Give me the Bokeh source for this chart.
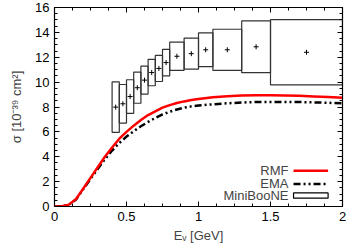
from bokeh.plotting import figure
from bokeh.models import (Range1d, LinearAxis, SingleIntervalTicker, CustomJSTickFormatter,
                          Label, ColumnDataSource)
from bokeh.embed import file_html
from bokeh.resources import INLINE

# ---- data ----
energy = [0, 0.05, 0.1, 0.15, 0.2, 0.25, 0.3, 0.35, 0.4, 0.45, 0.5, 0.55, 0.6, 0.65, 0.7,
          0.75, 0.8, 0.85, 0.9, 0.95, 1.0, 1.1, 1.2, 1.3, 1.4, 1.5, 1.6, 1.7, 1.8, 1.9, 2.0]
rmf = [0, 0.02, 0.15, 0.6, 1.45, 2.3, 3.15, 4.0, 4.75, 5.45, 6.0, 6.5, 6.95, 7.35, 7.65,
       7.95, 8.15, 8.32, 8.45, 8.56, 8.65, 8.78, 8.86, 8.92, 8.95, 8.95, 8.93, 8.9, 8.85, 8.8, 8.75]
ema = [0, 0.02, 0.14, 0.57, 1.4, 2.22, 3.02, 3.8, 4.5, 5.1, 5.62, 6.05, 6.45, 6.8, 7.12,
       7.4, 7.62, 7.8, 7.95, 8.05, 8.12, 8.22, 8.3, 8.36, 8.4, 8.41, 8.41, 8.4, 8.37, 8.34, 8.3]

bin_lo = [0.40, 0.45, 0.50, 0.55, 0.60, 0.65, 0.70, 0.75, 0.80, 0.90, 1.00, 1.10, 1.30, 1.50]
bin_hi = [0.45, 0.50, 0.55, 0.60, 0.65, 0.70, 0.75, 0.80, 0.90, 1.00, 1.10, 1.30, 1.50, 2.00]
mb_sigma = [7.99, 8.26, 8.84, 9.55, 10.16, 10.77, 11.10, 11.57, 12.08, 12.29, 12.60, 12.60, 12.84, 12.40]
mb_err = [2.03, 1.55, 1.35, 1.25, 1.12, 1.06, 1.05, 1.06, 1.13, 1.25, 1.36, 1.65, 2.08, 2.62]

legend_labels = ["RMF", "EMA", "MiniBooNE"]

# ---- layout constants (legend placement in data space) ----
LEG_TEXT_X = 1.625
LEG_X0, LEG_X1 = 1.66, 1.90
LEG_ROWS = [2.87, 1.81, 0.88]
LEG_BOX_H = 0.42

FONT = "Liberation Sans"

p = figure(width=348, height=245, output_backend="svg", toolbar_location=None,
           x_range=Range1d(0, 2), y_range=Range1d(0, 16),
           min_border_left=54, min_border_right=6, min_border_top=7, min_border_bottom=39)
p.background_fill_color = "white"
p.border_fill_color = "white"
p.outline_line_color = "black"
p.outline_line_width = 1.2
p.xgrid.visible = False
p.ygrid.visible = False

xt = SingleIntervalTicker(interval=0.5, num_minor_ticks=4)
yt = SingleIntervalTicker(interval=2, num_minor_ticks=4)
fmt = CustomJSTickFormatter(code="return tick.toString();")
blank = CustomJSTickFormatter(code="return '';")

def style_axis(ax, labels=True):
    ax.major_tick_in = 5
    ax.major_tick_out = 0
    ax.minor_tick_in = 3
    ax.minor_tick_out = 0
    ax.axis_line_color = "black"
    ax.major_tick_line_color = "black"
    ax.minor_tick_line_color = "black"
    ax.major_label_text_font = FONT
    ax.major_label_text_font_size = "13px"
    ax.major_label_text_color = "black"
    ax.major_label_standoff = 5 if labels else 0

p.xaxis.ticker = xt
p.yaxis.ticker = yt
p.xaxis.formatter = fmt
p.yaxis.formatter = fmt
style_axis(p.xaxis[0])
style_axis(p.yaxis[0])

p.yaxis.axis_label = "σ [10⁻³⁹ cm²]"
p.yaxis.axis_label_text_font = FONT
p.yaxis.axis_label_text_font_size = "13px"
p.yaxis.axis_label_text_font_style = "normal"
p.yaxis.axis_label_standoff = 8

p.xaxis.axis_label = "Eᵥ [GeV]"
p.xaxis.axis_label_text_font = FONT
p.xaxis.axis_label_text_font_size = "13px"
p.xaxis.axis_label_text_font_style = "normal"
p.xaxis.axis_label_standoff = 4

ax_r = LinearAxis(ticker=yt, formatter=blank)
style_axis(ax_r, labels=False)
p.add_layout(ax_r, "right")
ax_t = LinearAxis(ticker=xt, formatter=blank)
style_axis(ax_t, labels=False)
p.add_layout(ax_t, "above")

# MiniBooNE error boxes
mb = ColumnDataSource(dict(
    left=bin_lo, right=bin_hi,
    bottom=[s - e for s, e in zip(mb_sigma, mb_err)],
    top=[s + e for s, e in zip(mb_sigma, mb_err)],
    xc=[(a + b) / 2 for a, b in zip(bin_lo, bin_hi)],
    y=mb_sigma))
p.quad(left="left", right="right", bottom="bottom", top="top", source=mb,
       fill_color=None, line_color="#333333", line_width=1.2)
p.scatter("xc", "y", source=mb, marker="cross", size=5, line_color="black", line_width=1)

# curves
p.line(energy, ema, line_color="black", line_width=2.5, line_dash="7 3 2 3 2 3")
p.line(energy, rmf, line_color="#ff0000", line_width=2.5)

# legend
for lab, yy in zip(legend_labels, LEG_ROWS):
    p.add_layout(Label(x=LEG_TEXT_X, y=yy, text=lab, text_font=FONT, text_font_size="13px",
                       text_align="right", text_baseline="middle"))
p.line([LEG_X0, LEG_X1], [LEG_ROWS[0]] * 2, line_color="#ff0000", line_width=2.5)
p.line([LEG_X0, LEG_X1], [LEG_ROWS[1]] * 2, line_color="black", line_width=2.5,
       line_dash="7 3 2 3 2 3")
p.quad(left=[LEG_X0], right=[LEG_X1], bottom=[LEG_ROWS[2] - LEG_BOX_H / 2],
       top=[LEG_ROWS[2] + LEG_BOX_H / 2], fill_color=None, line_color="black", line_width=1.2)

open("out.html", "w").write(file_html(p, INLINE))
